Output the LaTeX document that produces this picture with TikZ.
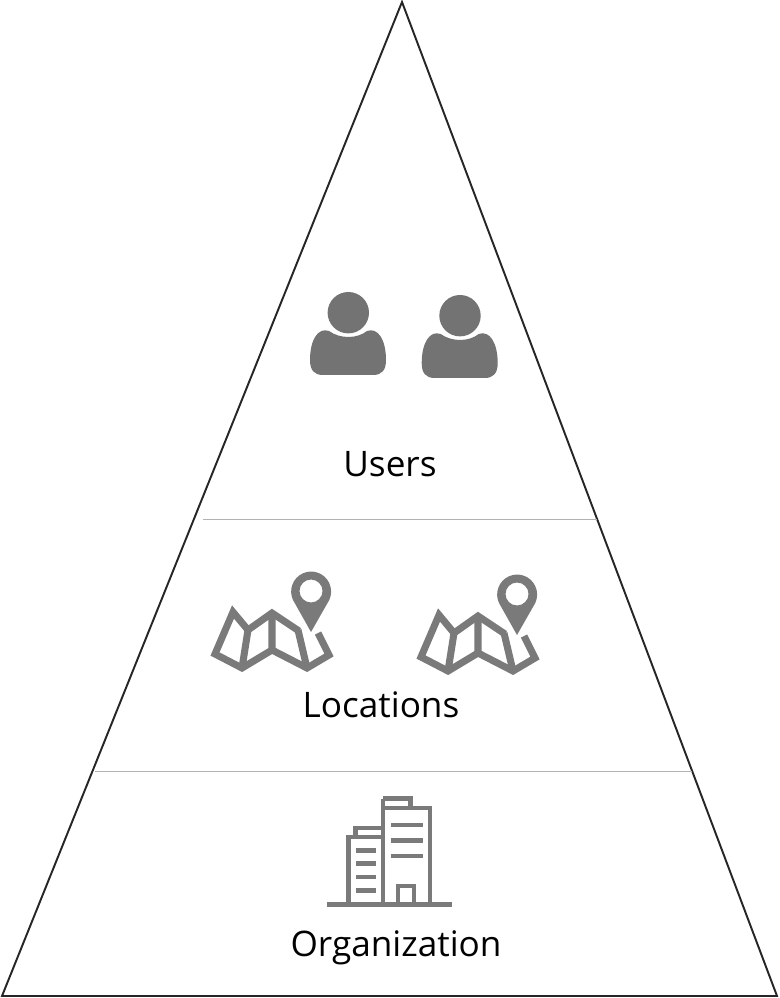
\documentclass[tikz,border=0pt]{standalone}
\usepackage{fontspec}
\setmainfont{Open Sans}
\tikzset{
  x=0.01cm, y=-0.01cm,
  label/.style={font=\fontsize{10}{12}\selectfont, text=black, inner sep=0pt},
  outline/.style={draw=black!85, line width=0.55pt, line join=miter},
  divider/.style={draw=black!30, line width=0.25pt},
  pics/usericon/.style={code={
    \fill[black!55] (58.3,32.7) circle (20.7);
    \fill[black!55] (39,51) .. controls (50,59) and (67,59) .. (77,51)
      .. controls (88,47) and (96,60) .. (96,80)
      .. controls (96,90) and (92,95) .. (83,95) -- (33,95)
      .. controls (24,95) and (20,90) .. (20,80)
      .. controls (20,60) and (28,47) .. (39,51) -- cycle;
  }},
  pics/mapicon/.style={code={
    \draw[black!52, line width=2pt, line join=miter]
      (99,71) -- (72,53) -- (48,70) -- (33,52) -- (15,94) -- (42,108) -- (72,90) -- (107,108) -- (129,95) -- (118,73);
    \draw[black!52, line width=2pt] (42,108) -- (48,70) (72,53) -- (72,90) (98,70) -- (107,108);
    \fill[black!52, even odd rule] (111,72) -- (93,40) arc[start angle=155, end angle=385, radius=20] -- cycle
      (111,31) circle (11.5);
  }},
  pics/towericon/.style={code={
    \draw[black!52, line width=1.4pt, line join=miter]
      (68,118) -- (68,23) -- (115,23) -- (115,118)
      (68,13.5) -- (95.5,13.5) -- (95.5,23) (68,23) -- (68,13.5)
      (33.5,118) -- (33.5,52) -- (68,52)
      (40.5,52) -- (40.5,43) -- (68,43)
      (83,118) -- (83,101) -- (99,101) -- (99,118);
    \foreach \rowy in {40,55.7,71}
      \draw[black!52, line width=1.4pt] (76,\rowy) -- (107.5,\rowy);
    \foreach \rowy in {65.7,78.7,92,105.3}
      \draw[black!52, line width=1.4pt] (41.3,\rowy) -- (61,\rowy);
    \draw[black!52, line width=1.45pt] (12,119.5) -- (137,119.5);
  }},
}
\begin{document}
\begin{tikzpicture}
  \useasboundingbox (0,0) rectangle (779,998);
  %% Draw the corners
  \coordinate (top) at (402,2);
  \coordinate (left) at (2,996);
  \coordinate (right) at (777,996);
  \coordinate (UL) at (203,519);
  \coordinate (UR) at (597,519);
  \coordinate (LL) at (95,771);
  \coordinate (LR) at (692,771);
  %% Draw the layers
  \draw[outline] (top) -- (right) -- (left) -- cycle;
  \draw[divider] (UL) -- (UR);
  \draw[divider] (LL) -- (LR);
  %% Draw the icons
  \pic at (290,280) {usericon};
  \pic at (401.7,283) {usericon};
  \pic at (200,560) {mapicon};
  \pic at (406,563) {mapicon};
  \pic at (315,785) {towericon};
  %% Draw the labels
  \node[label] (users) at (390,464) {Users};
  \node[label] (locations) at (381,705) {Locations};
  \node[label] (organization) at (396,948) {Organization};
\end{tikzpicture}
\end{document}
